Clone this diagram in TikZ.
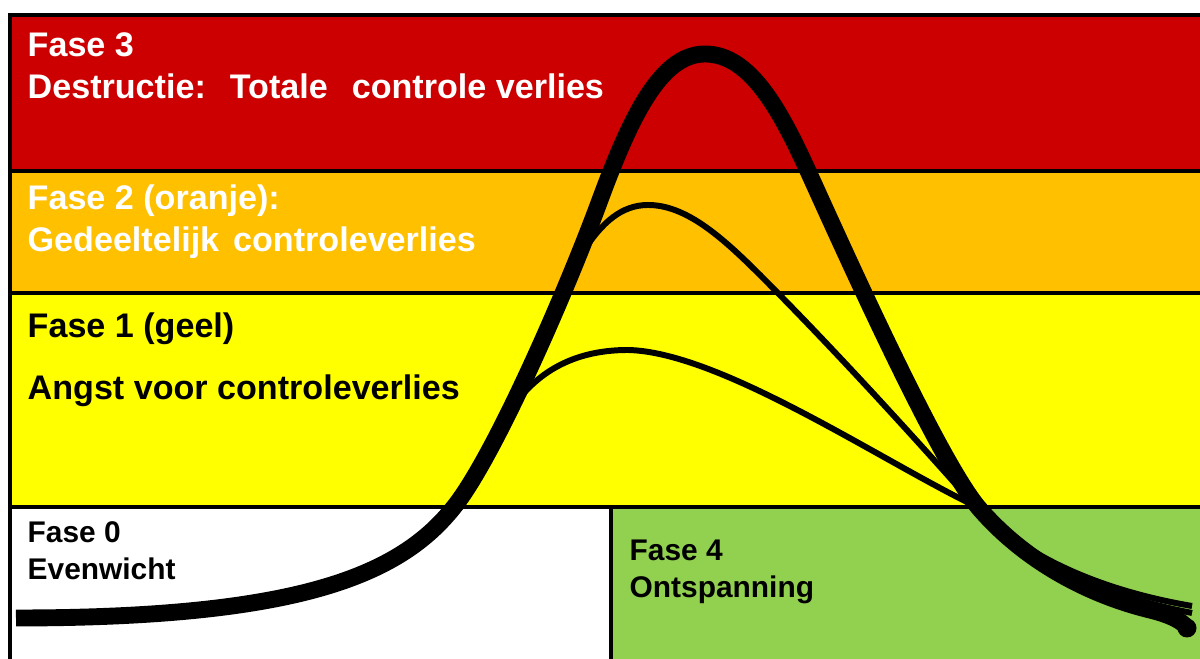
\documentclass[tikz,border=0pt]{standalone}
\usepackage{fontspec}
\setmainfont{Liberation Sans}
\definecolor{faseRood}{HTML}{CC0000}
\definecolor{faseOranje}{HTML}{FFC000}
\definecolor{faseGeel}{HTML}{FFFF00}
\definecolor{faseGroen}{HTML}{92D050}
\tikzset{
  fasetext/.style={anchor=base west, inner sep=0pt, font=\bfseries\fontsize{9.7pt}{11pt}\selectfont},
  fasetextklein/.style={anchor=base west, inner sep=0pt, font=\bfseries\fontsize{8.5pt}{10pt}\selectfont},
  scheiding/.style={line width=1.2pt},
  hoofdcurve/.style={line width=4.8pt, line cap=butt, line join=round},
  bijcurve/.style={line width=1.7pt, line cap=butt}
}
\begin{document}
\begin{tikzpicture}[x=0.01cm,y=-0.01cm]
\useasboundingbox (0,0) rectangle (1200,659);
% bands of the phases
\fill[faseRood]   (10,15)  rectangle (1200,171);
\fill[faseOranje] (10,171) rectangle (1200,293);
\fill[faseGeel]   (10,293) rectangle (1200,507);
\fill[white]      (10,507) rectangle (611,659);
\fill[faseGroen]  (611,507) rectangle (1200,659);
% lines between the bands
\draw[scheiding] (10,659) -- (10,15) -- (1200,15);
\foreach \y in {171,293,507}
  \draw[scheiding] (10,\y) -- (1200,\y);
\draw[scheiding] (611,507) -- (611,659);
% texts
\node[fasetext, white] (fase3) at (27,57) {Fase 3};
\node[fasetext, white] (fase3b) at (27,99) {Destructie:\hspace{0.24cm}Totale\hspace{0.24cm}controle verlies};
\node[fasetext, white] (fase2) at (27,210) {Fase 2 (oranje):};
\node[fasetext, white] (fase2b) at (27,252) {Gedeeltelijk\hspace{0.14cm}controleverlies};
\node[fasetext] (fase1) at (27,338) {Fase 1 (geel)};
\node[fasetext] (fase1b) at (27,400) {Angst voor controleverlies};
\node[fasetextklein] (fase0) at (27,543) {Fase 0};
\node[fasetextklein] (fase0b) at (27,580) {Evenwicht};
\node[fasetextklein] (fase4) at (629,561) {Fase 4};
\node[fasetextklein] (fase4b) at (629,598) {Ontspanning};
% the two lower curves
\draw[bijcurve] (518,400) .. controls (548,362) and (588,350) .. (628,350)
  .. controls (720,352) and (880,460) .. (975,506)
  .. controls (1030,565) and (1110,597) .. (1192,613);
\draw[bijcurve] (583,252) .. controls (602,222) and (622,205) .. (648,205)
  .. controls (685,205) and (720,235) .. (760,275)
  .. controls (840,355) and (930,455) .. (975,506)
  .. controls (1030,562) and (1110,592) .. (1192,606);
% the main curve
\draw[hoofdcurve] (16,618) .. controls (300,618) and (400,575) .. (454,507)
  .. controls (494,457) and (565,295) .. (600,200)
  .. controls (630,119) and (660,54) .. (705,54)
  .. controls (750,54) and (780,110) .. (808,171)
  .. controls (835,230) and (935,455) .. (978,507)
  .. controls (1030,568) and (1100,598) .. (1150,610)
  .. controls (1170,615) and (1182,621) .. (1186,627);
\fill (1187,628) circle (9.5);
\end{tikzpicture}
\end{document}
